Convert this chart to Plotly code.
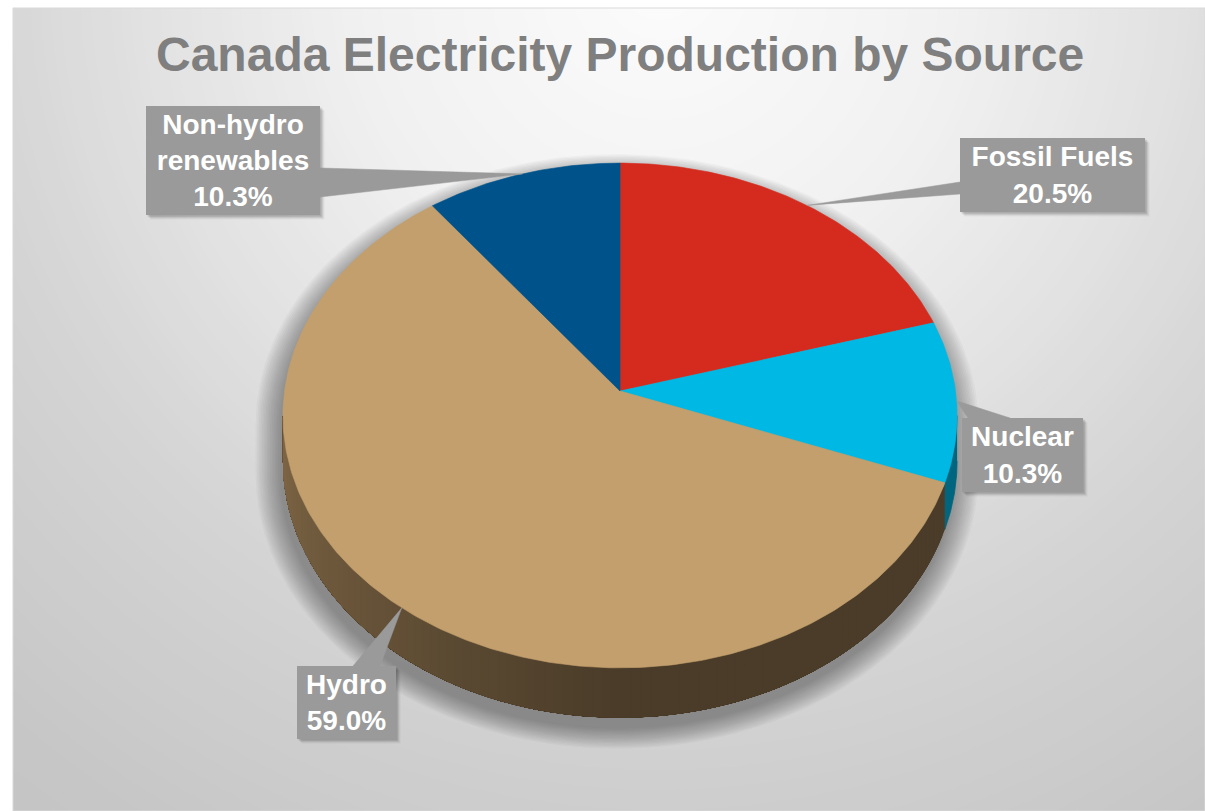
import numpy as np
import plotly.graph_objects as go

# ---------------- data ----------------
sources = ["Fossil Fuels", "Nuclear", "Hydro", "Non-hydro renewables"]
label_names = ["Fossil Fuels", "Nuclear", "Hydro", "Non-hydro<br>renewables"]
shares = [20.5, 10.3, 59.0, 10.3]
top_colors = ["#d52b1e", "#00b8e4", "#c29f6d", "#00538a"]
side_colors = ["#8a1d14", "#00657e", "#4b3d2a", "#003358"]
title_text = "Canada Electricity Production by Source"

# ---------------- canvas ----------------
W, H = 1205, 811
ML, MT = 13, 8
FONT = "Liberation Sans, Arial, sans-serif"

# ---------------- 3-D pie geometry (pixel space) ----------------
CX, CY = 620.0, 391.0      # where the slices meet
RX, RY = 335.5, 250.0      # radii of the projected disk
PERSP = 0.097              # perspective strength
DEPTH = 45.0               # thickness of the disk


def project(theta_deg, level=0.0):
    t = np.radians(np.asarray(theta_deg, dtype=float))
    s, c = np.sin(t), np.cos(t)
    den = 1 + PERSP * c
    return CX + RX * s / den, CY - RY * c / den + level * DEPTH / den


total = float(sum(shares))
bounds = np.concatenate([[0.0], np.cumsum(shares) / total * 360.0])
vis0 = np.degrees(np.arccos(-PERSP))   # right silhouette angle
vis1 = 360.0 - vis0                    # left silhouette angle

fig = go.Figure()


def poly(xs, ys, fill, line_w=0.0, line_col=None):
    fig.add_trace(go.Scatter(
        x=list(xs), y=list(ys), mode="lines", fill="toself", fillcolor=fill,
        line=dict(width=line_w, color=line_col or fill),
        hoverinfo="skip", showlegend=False))


def wall(a, b, n=40):
    th = np.linspace(a, b, n)
    tx, ty = project(th, 0)
    ux, uy = project(th[::-1], 1)
    return np.concatenate([tx, ux]), np.concatenate([ty, uy])


# ---------------- background radial shading ----------------
BG_CX, BG_CY = 660.0, -20.0
bg_d = [0, 300, 500, 700, 1000, 1400]
bg_v = [252, 241, 227, 212, 198, 190]
ang = np.linspace(0, 2 * np.pi, 181)
for r in np.arange(1400, 0, -10):
    v = int(round(np.interp(r, bg_d, bg_v)))
    poly(BG_CX + r * np.cos(ang), BG_CY + r * np.sin(ang), f"rgb({v},{v},{v})")

# ---------------- soft shadow under the pie ----------------
back = np.linspace(vis1, 360 + vis0, 240)
front = np.linspace(vis0, vis1, 160)
bx, by = project(back, 0)
fx, fy = project(front, 1)
sil_x = np.concatenate([bx, fx])
sil_y = np.concatenate([by, fy])
for k in range(16):
    s = 1.0 + 0.0048 * k
    poly(CX + s * (sil_x - CX) - 3, 440 + s * (sil_y - 440) + 11,
         "rgba(60,60,60,0.036)")

# ---------------- side walls ----------------
light = np.array([128, 103, 70])
dark = np.array([74, 60, 41])
for i in range(len(shares)):
    a, b = max(bounds[i], vis0), min(bounds[i + 1], vis1)
    if b <= a:
        continue
    if sources[i] == "Hydro":
        # overlapping layers: each one reaches the left silhouette,
        # so neighbouring shades never leave a seam between them
        for e in np.arange(a, b, 1.5):
            tt = np.clip((vis1 - e) / 85.0, 0, 1)
            c = (light + (dark - light) * tt).round().astype(int)
            xs, ys = wall(e, b, max(6, int((b - e) / 2)))
            poly(xs, ys, f"rgb({c[0]},{c[1]},{c[2]})")
    else:
        xs, ys = wall(a, b, 30)
        poly(xs, ys, side_colors[i], 0.8)

# ---------------- top faces ----------------
for i in range(len(shares)):
    n = max(8, int((bounds[i + 1] - bounds[i]) * 1.5))
    th = np.linspace(bounds[i], bounds[i + 1], n)
    ax_, ay_ = project(th, 0)
    poly(np.concatenate([[CX], ax_, [CX]]), np.concatenate([[CY], ay_, [CY]]),
         top_colors[i], 0.6)

# ---------------- callout labels ----------------
BOX_COL = "#9a9a9a"
# box centre, size, and where the pointer leaves the box
boxes = {
    "Fossil Fuels": dict(c=(1052.5, 175.0), w=185, h=74, base=((960, 182), (960, 194))),
    "Nuclear": dict(c=(1022.5, 455.0), w=121, h=74, base=((968, 418), (1010, 418))),
    "Hydro": dict(c=(346.5, 702.5), w=99, h=73, base=((353, 666), (380, 666))),
    "Non-hydro renewables": dict(c=(233.0, 160.5), w=174, h=109, base=((320, 168), (320, 197))),
}

for name in sources:
    spec = boxes[name]
    x0 = spec["c"][0] - spec["w"] / 2
    y0 = spec["c"][1] - spec["h"] / 2
    x1, y1 = x0 + spec["w"], y0 + spec["h"]
    # drop shadow
    for k, a in enumerate([0.10, 0.08, 0.06, 0.04]):
        o = 1.5 + k
        poly([x0 + o, x1 + o, x1 + o, x0 + o, x0 + o],
             [y0 + o, y0 + o, y1 + o, y1 + o, y0 + o], f"rgba(0,0,0,{a})")

for i, name in enumerate(sources):
    spec = boxes[name]
    mid = 0.5 * (bounds[i] + bounds[i + 1])
    tx, ty = project(mid, 0)
    (b0x, b0y), (b1x, b1y) = spec["base"]
    poly([float(tx), b0x, b1x, float(tx)], [float(ty), b0y, b1y, float(ty)], BOX_COL, 0.5)

annotations = []
for i, name in enumerate(sources):
    spec = boxes[name]
    annotations.append(dict(
        x=spec["c"][0], y=spec["c"][1], xref="x", yref="y",
        xanchor="center", yanchor="middle", showarrow=False,
        width=spec["w"], height=spec["h"], bgcolor=BOX_COL,
        borderpad=0, borderwidth=0, align="center", valign="middle",
        text=f"<b>{label_names[i]}<br>{shares[i]:.1f}%</b>",
        font=dict(family=FONT, size=28, color="white")))

annotations.append(dict(
    x=620, y=54, xref="x", yref="y", xanchor="center", yanchor="middle",
    showarrow=False, text=f"<b>{title_text}</b>",
    font=dict(family=FONT, size=48, color="#7f7f7f")))

fig.update_layout(
    width=W, height=H,
    margin=dict(l=ML, r=0, t=MT, b=0, pad=0),
    paper_bgcolor="white", plot_bgcolor="rgb(190,190,190)",
    xaxis=dict(range=[ML, W], visible=False, fixedrange=True),
    yaxis=dict(range=[H, MT], visible=False, fixedrange=True),
    annotations=annotations,
    shapes=[dict(type="rect", xref="paper", yref="paper", x0=0, y0=0, x1=1, y1=1,
                 line=dict(color="#d9d9d9", width=1), layer="above")],
    showlegend=False,
)

fig.write_html("out.html")
